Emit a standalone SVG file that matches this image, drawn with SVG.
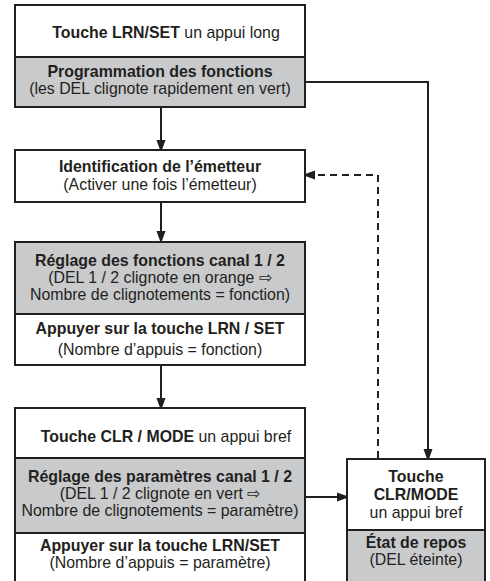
<svg xmlns="http://www.w3.org/2000/svg" width="490" height="581" viewBox="0 0 490 581">
<defs>
<style>
.box{fill:#ffffff;stroke:#231f20;stroke-width:2}
.gray{fill:#c9cacc;stroke:#231f20;stroke-width:2}
text{font-family:"Liberation Sans",Arial,sans-serif;font-size:15.9px;fill:#231f20;text-anchor:middle}
.b{font-weight:bold}
.line{fill:none;stroke:#231f20;stroke-width:2}
.dash{fill:none;stroke:#231f20;stroke-width:2;stroke-dasharray:7,5}
</style>
<marker id="ah" markerWidth="13" markerHeight="18" refX="13" refY="6.5" orient="auto" markerUnits="userSpaceOnUse" viewBox="0 0 18 13">
<path d="M0,0 L18,6.5 L0,13 Z" fill="#231f20"/>
</marker>
</defs>
<rect width="490" height="581" fill="#ffffff"/>

<g id="connectors">
<line class="line" x1="161" y1="107" x2="161" y2="149" marker-end="url(#ah)"/>
<line class="line" x1="161" y1="202" x2="161" y2="240" marker-end="url(#ah)"/>
<line class="line" x1="161" y1="365" x2="161" y2="407" marker-end="url(#ah)"/>
<polyline class="line" points="305,82 428,82 428,458" marker-end="url(#ah)"/>
<polyline class="dash" points="378,458 378,175 306,175" marker-end="url(#ah)"/>
<line class="line" x1="305" y1="497" x2="346" y2="497" marker-end="url(#ah)"/>
</g>

<g id="n1">
<rect class="box" x="15" y="5" width="290" height="52"/>
<rect class="gray" x="15" y="57" width="290" height="50"/>
<text x="166" y="38"><tspan class="b">Touche LRN/SET</tspan> un appui long</text>
<text class="b" x="160" y="77">Programmation des fonctions</text>
<text x="160" y="94">(les DEL clignote rapidement en vert)</text>
</g>

<g id="n2">
<rect class="box" x="15" y="150" width="290" height="52"/>
<text class="b" x="160" y="172">Identification de l’émetteur</text>
<text x="160" y="190">(Activer une fois l’émetteur)</text>
</g>

<g id="n3">
<rect class="gray" x="15" y="242" width="290" height="72"/>
<rect class="box" x="15" y="314" width="290" height="51"/>
<text class="b" x="160" y="266">Réglage des fonctions canal 1 / 2</text>
<text x="160" y="283">(DEL 1 / 2 clignote en orange ⇨</text>
<text x="160" y="300">Nombre de clignotements = fonction)</text>
<text class="b" x="160" y="334">Appuyer sur la touche LRN / SET</text>
<text x="160" y="355">(Nombre d’appuis = fonction)</text>
</g>

<g id="n4">
<rect class="box" x="15" y="408" width="290" height="50"/>
<rect class="gray" x="15" y="458" width="290" height="75"/>
<rect class="box" x="15" y="533" width="290" height="60"/>
<text x="166" y="442"><tspan class="b">Touche CLR / MODE</tspan> un appui bref</text>
<text class="b" x="160" y="482">Réglage des paramètres canal 1 / 2</text>
<text x="160" y="499">(DEL 1 / 2 clignote en vert ⇨</text>
<text x="160" y="516">Nombre de clignotements = paramètre)</text>
<text class="b" x="160" y="551">Appuyer sur la touche LRN/SET</text>
<text x="160" y="568">(Nombre d’appuis = paramètre)</text>
</g>

<g id="n5">
<rect class="box" x="347" y="459" width="138" height="71"/>
<rect class="gray" x="347" y="530" width="138" height="60"/>
<text class="b" x="416" y="482">Touche</text>
<text class="b" x="416" y="500">CLR/MODE</text>
<text x="416" y="518">un appui bref</text>
<text class="b" x="416" y="548">État de repos</text>
<text x="416" y="565">(DEL éteinte)</text>
</g>
</svg>
